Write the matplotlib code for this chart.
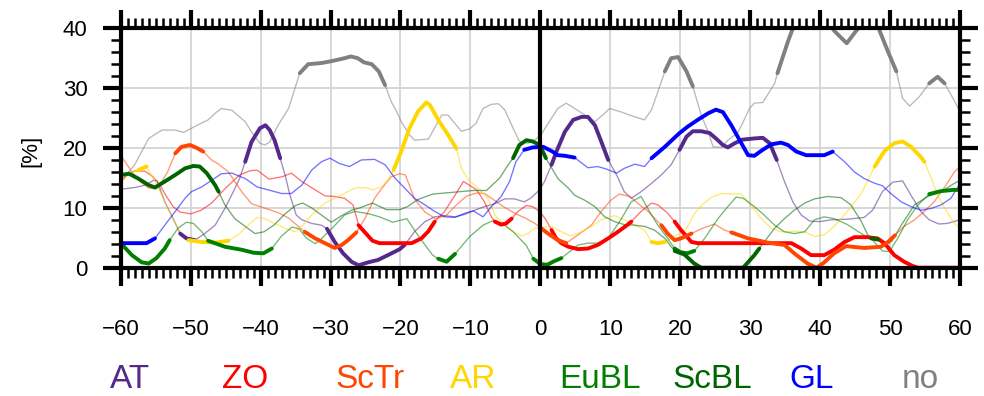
import matplotlib
matplotlib.use("Agg")
import matplotlib.pyplot as plt
import numpy as np
from matplotlib.ticker import MultipleLocator

plt.rcParams['font.family'] = ['Liberation Sans', 'DejaVu Sans']

# ---------------- data: lag (days) and frequency (%) per regime ----------------
at_days = [-60, -58, -56.5, -55.3, -54.8, -53.7, -52.5, -51.5, -50.6, -49.4, -48, -46.5, -45.1, -43.9, -43,
           -42.2, -41.3, -40.1, -39.3, -38.7, -38, -37.2, -36.5, -35.8, -34.9, -34.1, -32.7, -31.3, -30.5,
           -29.4, -28.2, -27, -26, -24.6, -23.2, -21.8, -20.1, -19.4, -18, -16.5, -15.1, -13.7, -12.2, -10.8,
           -9.4, -8, -6.5, -5.1, -3.7, -2.3, -1.4, -0.1, 0.6, 1.6, 2.3, 3.5, 4.7, 5.9, 6.8, 7.8, 8.7, 9.7,
           10.9, 12, 13, 14.4, 15.9, 17.3, 18.7, 19.9, 20.9, 21.8, 23, 24.2, 25.1, 26.1, 26.8, 27.8, 28.9,
           30.6, 31.8, 32.8, 33.8, 34.9, 36.1, 37.3, 38.5, 39.9, 41.6, 43.9, 46.3, 47.5, 48.9, 50.4, 51.8,
           53, 54.4, 55.6, 57, 58.2, 59.4, 60]
at_vals = [13.1, 13.4, 13.8, 14.6, 14.5, 11, 8.2, 5.7, 4.9, 4.6, 5.7, 7.1, 9.9, 12.7, 14.9,
           17.7, 21, 23.3, 23.8, 23, 21.3, 18.3, 15.5, 12.1, 8.8, 8, 7.4, 7.1, 6.5,
           4.3, 2.4, 1, 0.4, 0.9, 1.3, 2.1, 3.1, 3.8, 6, 7.7, 8.5, 8.7, 8.5, 8.9,
           9.6, 10.2, 10.7, 11.5, 11.5, 11, 11.6, 13, 14.4, 17.2, 19.4, 22.7, 24.7, 25.2, 25.2, 23.8, 21.1, 18,
           15.5, 12.7, 11.6, 12.7, 14.1, 15.5, 17.2, 19.7, 21.9, 22.8, 22.8, 22.5, 21.6, 20.5, 20.1, 20.8, 21.4,
           21.6, 21.7, 20.8, 18, 14.4, 11, 8.8, 7.8, 7.7, 8, 8.1, 8.4, 9.6, 12.7, 14.3, 14.5,
           12.1, 9.4, 8, 7.3, 7.4, 7.8, 8]
at_sig = [(-51.5, -49.4), (-42.2, -37.2), (-30.5, -19.4), (1.6, 9.7), (19.9, 33.8)]

zo_days = [-60, -59, -58, -56.5, -55.5, -54.5, -53.5, -52.5, -51.5, -50, -48.5, -47, -45, -43, -41.5,
           -40.5, -38.8, -36.9, -35.6, -34.1, -32.2, -30.8, -29.4, -28, -26.8, -26.3, -26, -25, -24, -23,
           -18.4, -17, -16, -15.1, -13.7, -12.2, -11, -10.3, -9.1, -8, -7, -6.5, -5.6, -4.9, -4.1, -3.2,
           -2, -1.1, 0, 0.8, 1.6, 2.2, 3, 4, 5.4, 6.8, 8.2, 9.7, 11.1, 12.5, 13, 14.4, 15.9, 16.8, 18.2,
           19.2, 20.1, 21.6, 22.5, 35.9, 37.3, 38.7, 40.6, 42, 43.5, 44.9, 46.8, 48.2, 49.2, 50.6, 52,
           53.2, 54, 60]
zo_vals = [14.5, 15.5, 16.2, 16.1, 15.3, 14, 12, 10.2, 9.3, 9, 9.6, 10.8, 13.3, 15.5, 16.2,
           16.3, 14.8, 15.2, 15.8, 14.4, 13, 12, 11.9, 11.6, 10.5, 8.5, 7.1, 5.8, 4.5, 4.1,
           4.1, 4.9, 6.1, 7.7, 9.4, 12.1, 14.4, 13.9, 13, 11, 8.5, 7.7, 7.2, 7.4, 8.2, 9.4,
           10.4, 10.2, 9.3, 8, 6.3, 5, 4.1, 3.5, 3.1, 3.2, 3.8, 4.9, 6, 7.2, 7.7, 9.4, 10.8, 10.5, 9.1,
           7.7, 6.3, 4.3, 4.1, 4.1, 3.2, 2.1, 2.1, 3, 4.3, 5.1, 5.1, 4.9, 4.1, 2.1, 1,
           0.3, 0, 0]
zo_sig = [(-26, -15.1), (-6.5, -4.1), (1.6, 13), (19.2, 60)]

sctr_days = [-60, -58.4, -57.2, -56, -55, -54.2, -53.3, -52.2, -51.3, -50.1, -49.1, -48.2, -47, -46,
             -44.6, -42.7, -41.3, -39, -37.5, -36, -34.6, -33.7, -32.2, -30.8, -29.4, -28.4, -27.5, -26.3,
             -25.1, -23.7, -22.5, -21.3, -20.1, -19.3, -18, -16.5, -15, -13.5, -12, -10.5, -9, -8, -6.5,
             -5, -3.5, -2, -0.8, 0.1, 1.1, 2.5, 3.7, 5.4, 7.3, 8.7, 10.1, 11.3, 12.8, 14, 15.4, 17.3,
             18.2, 19.2, 20.1, 21.6, 23, 24.9, 26.3, 27.3, 29.7, 32.5, 34.9, 36.3, 38.2, 39.5, 40.5, 42,
             43.7, 46.3, 48.7, 49.7, 50.7, 52, 53.5, 54.9, 56.3, 57.7, 59.2, 60]
sctr_vals = [18.8, 16, 14.4, 13.3, 13.2, 14.2, 16, 19.1, 20.2, 20.5, 20, 19.4, 18, 17.3,
             16, 12.7, 10.7, 9.8, 9.2, 8.3, 6.9, 6, 4.9, 4.1, 3.3, 3.8, 4.6, 5.9,
             8.2, 11.6, 13.5, 15.2, 15.7, 15.5, 11.5, 9.3, 8.2, 8.7, 10.5, 12, 12.5, 12.4, 11.2,
             10, 9, 8.2, 7.4, 6.6, 5.7, 4.6, 4.1, 5.5, 7.1, 9.4, 11.3, 12.3, 11.9, 10.7, 9.4, 7.1,
             5.7, 4.6, 4.9, 5.7, 6.5, 7.3, 6.3, 5.9, 4.9, 4.2, 3.8, 2.4, 0.7, 0, 0.8, 2.4,
             3.6, 3.3, 3.5, 4.3, 5.4, 6.9, 8, 9.4, 11, 13.3, 16, 16.9]
sctr_sig = [(-52.2, -48.2), (-33.7, -26.3), (0.1, 3.7), (17.3, 21.6), (27.3, 50.7)]

ar_days = [-60, -58.8, -57.5, -56.3, -55.1, -53.7, -52.5, -51.3, -50.3, -48.4, -46.5, -44.6, -43.2,
           -41.8, -40.5, -39.4, -38, -36.5, -35.1, -34.1, -32.7, -30.8, -29.4, -28, -26.5, -25.1, -23.9,
           -22.7, -21.8, -21, -19.9, -18.7, -17.5, -16.3, -15.8, -14.6, -13.2, -12, -11.3, -10.3, -8.9,
           -7.5, -6.5, -5.1, -3.7, -2.7, -1.8, -0.8, 0.1, 1.6, 3, 4.4, 5.9, 7.3, 8.7, 10.6, 12, 13.5,
           14.9, 15.9, 16.8, 17.8, 18.7, 19.9, 20.9, 22, 23.2, 24.5, 25.9, 28.7, 30.1, 31.6, 33, 34.4,
           36.3, 37.8, 39.2, 40.6, 42, 43.9, 45.9, 47.8, 49.2, 50.6, 51.8, 53, 54.4, 54.9, 55.9, 56.8,
           58, 59.2, 60]
ar_vals = [14.1, 15.8, 16.3, 16.9, 14.4, 11, 8, 5.5, 4.6, 4.3, 4.2, 4.5, 5.5,
           7.1, 8.4, 8.2, 7.4, 6.6, 6, 6.9, 8.8, 10.8, 11.6, 12.4, 13.3, 13.4, 13,
           13.5, 14.7, 16.3, 19.4, 23.3, 26.1, 27.6, 27.2, 24.7, 22.2, 19.9, 16.6, 14.7, 13.3,
           11.6, 8.8, 7.1, 5.9, 5.3, 5.7, 6.6, 6.7, 6.9, 6, 5.3, 6, 6.9, 8, 8.7, 8, 7.1,
           6.3, 4.3, 4.1, 4.3, 4.9, 5.7, 6.5, 9, 10.6, 11.8, 12.4, 12.3, 10.5, 8.2, 6.6, 6,
           6.1, 6, 5.2, 5.5, 6.9, 9.4, 12.4, 16.9, 19.5, 20.8, 21.1, 20.2, 18.5, 17.7, 14.9, 12.1,
           9.6, 7.4, 6.6]
ar_sig = [(-57.5, -56.3), (-50.3, -44.6), (-21, -12), (15.9, 17.8), (47.8, 54.9)]

eubl_days = [-60, -58.4, -57, -56, -54.9, -53.7, -53, -51.8, -50.6, -49.6, -48.4, -47.5, -45.1, -42.7,
             -41, -39.6, -38.4, -37, -35.5, -34.5, -33.5, -32.2, -31.5, -29.6, -28, -26.5, -24.5, -23,
             -21.1, -19.1, -17.2, -15.4, -14.6, -13.4, -12.2, -10.1, -8.2, -6.7, -5.3, -3.8, -2, -1, 0,
             1, 2, 3, 5.4, 6.8, 8.2, 9.7, 11.6, 13, 14.4, 15.6, 16.8, 18.2, 19.2, 20, 21, 22, 23.5,
             25.4, 26.8, 28, 29, 30.6, 32, 33.5, 34.9, 36.3, 37.8, 39.2, 40.6, 42, 43.9, 45.9, 47.5,
             48.9, 49.9, 51.1, 52.5, 54, 55.6, 57.3, 59, 60]
eubl_vals = [4.1, 2.1, 0.9, 0.7, 1.6, 3.2, 4.6, 6.6, 7.6, 7.4, 6, 4.5, 3.5, 3,
             2.5, 2.4, 3.2, 5.3, 6.8, 6.5, 5, 4, 4.6, 6.8, 8.8, 9.4, 9, 8.5,
             7.6, 8.2, 4.9, 2.1, 1.5, 1, 2.3, 5.2, 7.1, 7.9, 7.3, 5.9, 3.7, 1.5, 0.6,
             0.5, 1.1, 1.6, 3.8, 4.1, 4.1, 4.9, 8.2, 11, 11.9, 9.4, 7.1, 4.9, 3.2, 2.6, 2.4, 2.8, 4.9,
             8.2, 10.2, 11.8, 11.6, 10.2, 8.8, 7.1, 6, 5.7, 6, 8, 8.5, 8.2, 7.2, 5.7, 4.6,
             2.8, 2.7, 4.9, 8, 10.5, 12.3, 12.8, 13, 13]
eubl_sig = [(-60, -53), (-47.5, -38.4), (-14.6, -12.2), (-1, 3), (19.2, 22), (55.6, 60)]

scbl_days = [-60, -58.8, -57.5, -56, -55.1, -53.7, -52.2, -50.8, -49.6, -48.7, -47.7, -46.5, -46, -45.1,
             -43.7, -42.2, -40.8, -39.5, -38, -36.5, -35, -34, -32.7, -31.3, -29.9, -28.4, -27, -25.8,
             -24, -22, -20.1, -19, -17.5, -15.4, -12.5, -9.6, -7.7, -5.8, -4.6, -3.9, -3, -2, -1.1, -0.1,
             0.8, 2.5, 4, 4.9, 6.3, 7.8, 9.2, 10.6, 12, 13.5, 14.9, 16.3, 17.8, 18.7, 19.2, 20.6, 22, 23,
             29, 30.6, 31.3, 32, 33.5, 34.9, 36.3, 37.8, 39.2, 41.1, 43, 44.4, 45.9, 46.8, 47.3, 48.3,
             49.2, 50.3, 51.6, 53.5, 55.4, 57.3, 59.2, 60]
scbl_vals = [15.5, 15.7, 14.9, 13.8, 13.4, 14.4, 15.5, 16.6, 17, 16.9, 15.8, 13.8, 12.7, 10.5,
             8.2, 6.9, 5.7, 6, 7.2, 9, 10.4, 10.8, 10, 8.8, 7.6, 8.7, 9.6, 10,
             10.8, 9.7, 9.7, 10.2, 11.4, 12.3, 12.6, 12.9, 12.9, 15, 17.2, 18.3, 20.5, 21.3, 21.1, 20.5,
             18.3, 14.9, 13.3, 12.1, 11.3, 10.2, 8.5, 7.7, 7.2, 7.1, 6.9, 6.3, 4.9, 3.5, 2.8, 2.2, 0.7, 0,
             0, 2.1, 3.2, 4.3, 6.6, 8.2, 9.6, 10.8, 11.5, 11.9, 11.7, 10.5, 7.7, 5.5, 4.9, 4.7,
             3.6, 4.5, 7.1, 10.5, 11.9, 12.7, 14.1, 14.6]
scbl_sig = [(-60, -46), (-3.9, 0.8), (19.2, 31.3), (47.3, 48.3)]

gl_days = [-60, -58, -56.3, -55.1, -53.7, -52.2, -50.8, -49.9, -48.4, -47, -45.6, -44.1, -42.2, -40.5,
           -38.9, -37, -35.6, -34.1, -32.7, -31.3, -30.1, -28.7, -27.3, -25.6, -23.7, -22.2, -20.8,
           -19.4, -18, -16.5, -15.1, -13.7, -12.2, -10.8, -9.6, -8.2, -7, -5.6, -4.4, -3.5, -2.3, -1.1,
           0.4, 1.6, 2.5, 3.5, 4.9, 6.8, 8.2, 9.4, 10.9, 12, 13.5, 14.9, 15.9, 17.8, 19.9, 21.1, 22.5,
           24, 25.1, 26.1, 27.3, 28.5, 29.7, 30.6, 31.8, 33, 34.4, 35.4, 36.6, 38, 40.6, 41.8, 43.5,
           44.9, 46.3, 47.8, 48.9, 50.1, 51.6, 53, 54.4, 55.9, 57.3, 58.7, 60]
gl_vals = [4.1, 4.1, 4.1, 4.9, 7.1, 9.4, 11.6, 12.7, 13.5, 14.6, 15.7, 15.8, 14.9, 13.5,
           13, 12.4, 12.4, 13.8, 16.3, 17.7, 18.3, 17.4, 16.9, 18, 18.1, 17.2, 15,
           13.3, 11.6, 10.5, 9.4, 8.5, 8.4, 9.1, 9.5, 8.5, 10.2, 11.9, 14.4, 17.7, 19.7, 20.1,
           20.2, 19.5, 18.8, 18.7, 18.4, 16.7, 16.9, 16.5, 15.8, 16.6, 17.3, 16.9, 18.3, 20.2, 22.5, 23.6, 24.7,
           25.8, 26.4, 26, 23.8, 21.3, 18.8, 18.7, 19.7, 20.6, 20.9, 20.5, 19.4, 18.8, 18.8, 19.4, 17.7,
           16, 14.9, 14.1, 13.7, 12.4, 11, 10.2, 9.6, 9.9, 10.5, 11.6, 14.1]
gl_sig = [(-60, -55.1), (-2.3, 4.9), (15.9, 41.8)]

no_days = [-60, -58, -56, -54.1, -52.2, -51, -49.4, -47.5, -46.5, -45.6, -44.1, -42.2, -41.3, -40.1,
           -39.4, -38.7, -37.5, -36, -34.4, -33.2, -31.3, -29.9, -28, -27.1, -26.1, -25.2, -24.1, -23.1,
           -22.2, -21.3, -20.5, -19.9, -18.7, -18, -16, -14.1, -13.2, -11.3, -10.1, -9.2, -8.2, -7, -6,
           -5.1, -3.9, -3, -1.8, -0.8, 0.1, 1.1, 2.5, 3.7, 4.9, 6.8, 7.8, 9, 9.9, 11.6, 13.5, 14.9,
           15.9, 16.8, 17.8, 18.7, 19.7, 20.9, 21.8, 23, 24, 24.7, 25.9, 26.8, 28.2, 28.9, 29.9, 30.6,
           31.8, 32.5, 33.5, 33.9, 35.4, 36.1, 37.5, 39, 40.5, 42, 43.8, 45.3, 47, 48.5, 49.6, 50.9,
           51.8, 52.8, 54.2, 55.6, 56.8, 57.8, 58.9, 60]
no_vals = [14.4, 17.2, 21.6, 23, 23, 22.6, 23.6, 24.7, 25.8, 26.6, 26.3, 24.4, 22.7, 20.8,
           20.5, 21, 23.8, 26.6, 32.5, 34, 34.2, 34.5, 35, 35.3, 35, 34.3, 34, 32.8,
           30.5, 27.7, 26, 24.4, 22.2, 21.3, 21.5, 25.5, 25.5, 22.8, 23.2, 24.1, 26.6, 27.3, 27.4,
           26.4, 23.3, 21.1, 20.8, 21.3, 22.2, 24.1, 26.6, 27.5, 26.6, 25.2, 24.4, 25.6, 26.6, 26, 25.2, 24.7,
           26.4, 29.4, 32.8, 35, 35.2, 32.8, 30.3, 25.5, 22.7, 20.2, 20.1, 21.3, 22.5, 24.1, 26.6, 27.5,
           27.6, 28.9, 30.8, 32.5, 37.8, 40, 42.5, 43.5, 42.5, 39.6, 37.5, 39.8, 41.5, 39.6, 36.4, 32.8,
           28.3, 27, 28.6, 30.8, 31.9, 30.8, 28.5, 26.1]
no_sig = [(-34.4, -22.2), (17.8, 21.8), (33.9, 45.3), (48.5, 50.9), (55.6, 57.8)]

regimes = ["AT", "ZO", "ScTr", "AR", "EuBL", "ScBL", "GL", "no"]
colors = ["#55288c", "#ff0000", "#ff4500", "#ffd700", "#008000", "#006400", "#0000ff", "#808080"]
series = [
    (at_days, at_vals, at_sig),
    (zo_days, zo_vals, zo_sig),
    (sctr_days, sctr_vals, sctr_sig),
    (ar_days, ar_vals, ar_sig),
    (eubl_days, eubl_vals, eubl_sig),
    (scbl_days, scbl_vals, scbl_sig),
    (gl_days, gl_vals, gl_sig),
    (no_days, no_vals, no_sig),
]
legend_x = [130, 245, 370, 473, 600, 712, 812, 920]

# ---------------- figure ----------------
W, H = 984, 396
fig = plt.figure(figsize=(W / 100, H / 100), dpi=100)
ax = fig.add_axes([120.7 / W, 1 - 267.7 / H, (960 - 120.7) / W, (267.7 - 28.3) / H])

for (d, v, sig), c in zip(series, colors):
    d = np.asarray(d, float)
    v = np.asarray(v, float)
    # thin, faded line for the whole lag range
    ax.plot(d, v, color=c, lw=0.95, alpha=0.55, zorder=3, solid_joinstyle='round')
    # thick line over the significant lag windows
    for a, b in sig:
        m = (d >= a - 1e-9) & (d <= b + 1e-9)
        ax.plot(d[m], v[m], color=c, lw=2.8, zorder=4,
                solid_capstyle='round', solid_joinstyle='round')

ax.axvline(0, color='black', lw=3, zorder=6)

ax.set_xlim(-60, 60)
ax.set_ylim(0, 40)
ax.xaxis.set_major_locator(MultipleLocator(10))
ax.xaxis.set_minor_locator(MultipleLocator(1))
ax.yaxis.set_major_locator(MultipleLocator(10))
ax.yaxis.set_minor_locator(MultipleLocator(2))
ax.grid(which='major', color='#d4d4d4', lw=1.3)
ax.set_axisbelow(True)

for s in ax.spines.values():
    s.set_linewidth(3)
    s.set_zorder(7)

ax.tick_params(which='major', direction='out', length=13, width=3,
               top=True, right=True, labelsize=16)
ax.tick_params(which='minor', direction='out', length=7, width=1.8,
               top=True, right=True)
ax.tick_params(axis='x', which='major', pad=24)
ax.tick_params(axis='y', which='major', pad=11)

ax.set_ylabel('[%]', fontsize=16)
ax.yaxis.set_label_coords(-0.094, 0.49)

for name, c, x in zip(regimes, colors, legend_x):
    fig.text(x / W, 1 - 380 / H, name, color=c, fontsize=24, ha='center', va='center')

fig.savefig('out.png', dpi=100)
